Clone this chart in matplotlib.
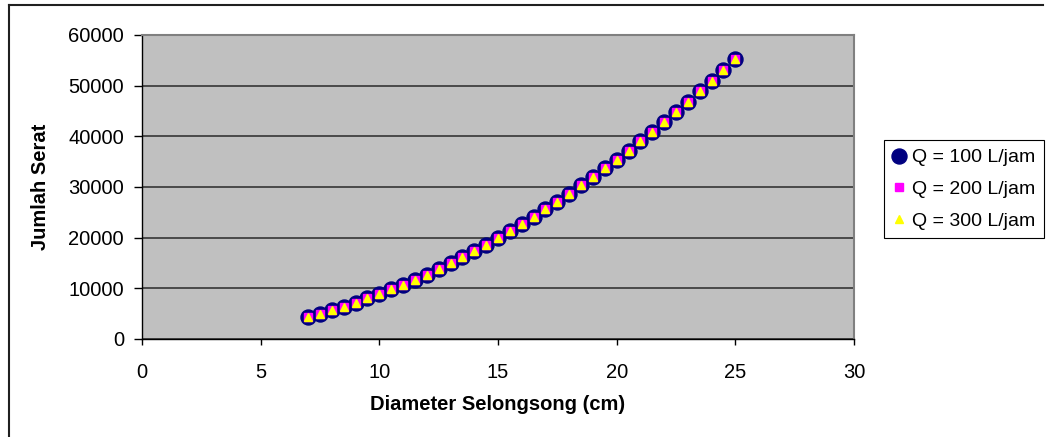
import matplotlib
matplotlib.use("Agg")
import matplotlib.pyplot as plt
from matplotlib.lines import Line2D

diameter = [7, 7.5, 8, 8.5, 9, 9.5, 10, 10.5, 11, 11.5, 12, 12.5, 13, 13.5,
            14, 14.5, 15, 15.5, 16, 16.5, 17, 17.5, 18, 18.5, 19, 19.5, 20,
            20.5, 21, 21.5, 22, 22.5, 23, 23.5, 24, 24.5, 25]
q100 = [4400, 5000, 5700, 6400, 7200, 8000, 8900, 9800, 10700, 11700, 12700,
        13800, 15000, 16100, 17300, 18600, 19900, 21300, 22700, 24100, 25600,
        27100, 28700, 30300, 32000, 33700, 35400, 37200, 39000, 40900, 42800,
        44800, 46800, 48900, 51000, 53100, 55300]
q200 = list(q100)
q300 = list(q100)
labels = ["Q = 100 L/jam", "Q = 200 L/jam", "Q = 300 L/jam"]
xticks = [0, 5, 10, 15, 20, 25, 30]
yticks = [0, 10000, 20000, 30000, 40000, 50000, 60000]

plt.rcParams['font.family'] = ['Liberation Sans', 'DejaVu Sans']

W, H = 1047, 437
fig = plt.figure(figsize=(W / 100, H / 100), dpi=100)
L, R, T, B = 142, 854, 35, 339
ax = fig.add_axes([L / W, 1 - B / H, (R - L) / W, (B - T) / H])
ax.set_facecolor('#C0C0C0')

ax.plot(diameter, q100, linestyle='none', marker='o', markersize=10.8,
        markerfacecolor='#000080', markeredgecolor='#000080', label=labels[0], zorder=3)
ax.plot(diameter, q200, linestyle='none', marker='s', markersize=6.3,
        markerfacecolor='#FF00FF', markeredgecolor='#FF00FF', label=labels[1], zorder=4)
ax.plot(diameter, q300, linestyle='none', marker='^', markersize=6.0,
        markerfacecolor='#FFFF00', markeredgecolor='#FFFF00', label=labels[2], zorder=5)

ax.set_xlim(0, 30)
ax.set_ylim(0, 60000)
ax.set_xticks(xticks)
ax.set_yticks(yticks)
ax.grid(axis='y', color='#404040', linewidth=1.3, zorder=1)
ax.set_axisbelow(True)

for s in ['top', 'right']:
    ax.spines[s].set_color('#808080')
    ax.spines[s].set_linewidth(1.5)
for s in ['left', 'bottom']:
    ax.spines[s].set_color('black')
    ax.spines[s].set_linewidth(1.0)

ax.tick_params(axis='y', direction='out', length=6, width=1, pad=7, labelsize=14.5)
ax.tick_params(axis='x', direction='out', length=4, width=1, pad=13.5, labelsize=14.5)

ax.set_xlabel("Diameter Selongsong (cm)", fontsize=14.5, fontweight='bold', va='center')
ax.xaxis.set_label_coords(0.5, (B - 405) / (B - T))
ax.set_ylabel("Jumlah Serat", fontsize=14.5, fontweight='bold', va='center')
ax.yaxis.set_label_coords((40 - L) / (R - L), 0.5)

leg = ax.legend(loc='upper left', bbox_to_anchor=(884 / W, 1 - 140 / H),
                bbox_transform=fig.transFigure, fontsize=14, frameon=True,
                fancybox=False, edgecolor='black', framealpha=1,
                handlelength=0.6, handletextpad=0.4, labelspacing=0.72,
                borderpad=0.45, borderaxespad=0, markerscale=1.0)
leg.get_frame().set_linewidth(0.8)

# outer chart frame
fig.add_artist(Line2D([9 / W, 9 / W], [0, 1 - 5 / H], transform=fig.transFigure,
                      color='#202020', linewidth=1.5))
fig.add_artist(Line2D([9 / W, 1043 / W], [1 - 5 / H, 1 - 5 / H], transform=fig.transFigure,
                      color='#202020', linewidth=1.5))

fig.savefig("out.png", dpi=100)
